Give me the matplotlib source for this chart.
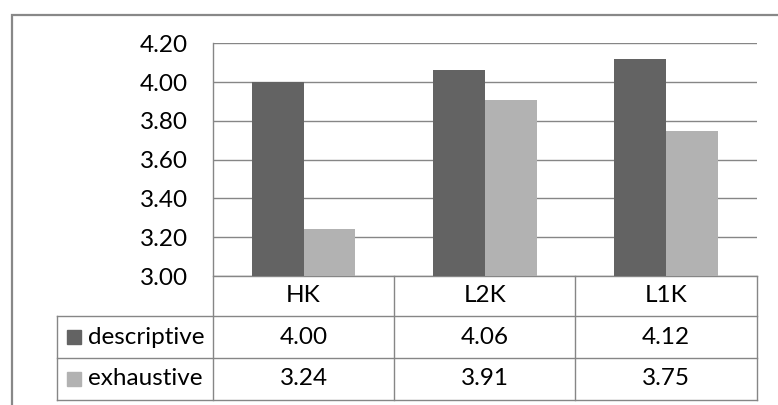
import matplotlib
matplotlib.use("Agg")
import numpy as np
from matplotlib import pyplot as plt
from matplotlib.lines import Line2D
from matplotlib.patches import Rectangle

# data
categories = ["HK", "L2K", "L1K"]
series_names = ["descriptive", "exhaustive"]
descriptive = [4.00, 4.06, 4.12]
exhaustive = [3.24, 3.91, 3.75]
yticks = [3.00, 3.20, 3.40, 3.60, 3.80, 4.00, 4.20]

colors = ["#636363", "#b2b2b2"]
line_col = "#868686"
fs = 17.5

plt.rcParams['font.family'] = ['Lato', 'DejaVu Sans']

W, H = 778, 405
fig = plt.figure(figsize=(W / 100, H / 100), dpi=100)

# outer chart border
fig.add_artist(Rectangle((12 / W, -0.1), 1.0, (H - 15) / H + 0.1, transform=fig.transFigure,
                         fill=False, ec="#888888", lw=1.6))

left, right, top, bottom = 213, 756.7, 43.3, 276
ax = fig.add_axes([left / W, 1 - bottom / H, (right - left) / W, (bottom - top) / H])

x = np.arange(len(categories))
bw = 1 / 3.5
ax.bar(x - bw / 2, descriptive, bw, color=colors[0], zorder=3)
ax.bar(x + bw / 2, exhaustive, bw, color=colors[1], zorder=3)

ax.set_xlim(-0.5, len(categories) - 0.5)
ax.set_ylim(3.0, 4.2)
ax.set_yticks(yticks)
ax.set_yticklabels([f"{v:.2f}" for v in yticks], fontsize=fs, color="#000000")
ax.tick_params(axis="y", length=0, pad=18)
ax.set_xticks([])
ax.yaxis.grid(True, color=line_col, lw=1.0, zorder=0)
for s in ax.spines.values():
    s.set_visible(False)

# data table below the plot
ph = bottom - top
pw = right - left
r_head = -(316 - bottom) / ph
r1 = -(358 - bottom) / ph
r2 = -(399.5 - bottom) / ph
legx = -(left - 57.3) / pw
n = len(categories)

def hline(x0, x1, y):
    ax.add_line(Line2D([x0, x1], [y, y], transform=ax.transAxes, color=line_col, lw=1.0, clip_on=False))

def vline(xx, y0, y1):
    ax.add_line(Line2D([xx, xx], [y0, y1], transform=ax.transAxes, color=line_col, lw=1.0, clip_on=False))

hline(0, 1, 0)
for yy in [r_head, r1, r2]:
    hline(legx, 1, yy)
vline(0, r2, 1)
vline(legx, r2, r_head)
for i in range(1, n):
    vline(i / n, r2, 0)
vline(1, r2, 0)

for i, c in enumerate(categories):
    ax.text((i + 0.5) / n, r_head / 2, c, transform=ax.transAxes, ha="center", va="center",
            fontsize=fs)

rows = [descriptive, exhaustive]
tops = [r_head, r1]
bots = [r1, r2]
for j, vals in enumerate(rows):
    yc = (tops[j] + bots[j]) / 2
    for i, v in enumerate(vals):
        ax.text((i + 0.5) / n, yc, f"{v:.2f}", transform=ax.transAxes, ha="center", va="center",
                fontsize=fs)
    # legend key + label
    sw = 14.5
    sx = (66.7 - left) / pw
    ax.add_patch(Rectangle((sx, yc - sw / 2 / ph), sw / pw, sw / ph, transform=ax.transAxes,
                           color=colors[j], clip_on=False))
    ax.text((88.3 - left) / pw, yc, series_names[j], transform=ax.transAxes, ha="left",
            va="center", fontsize=fs)

fig.savefig("out.png", dpi=100)
